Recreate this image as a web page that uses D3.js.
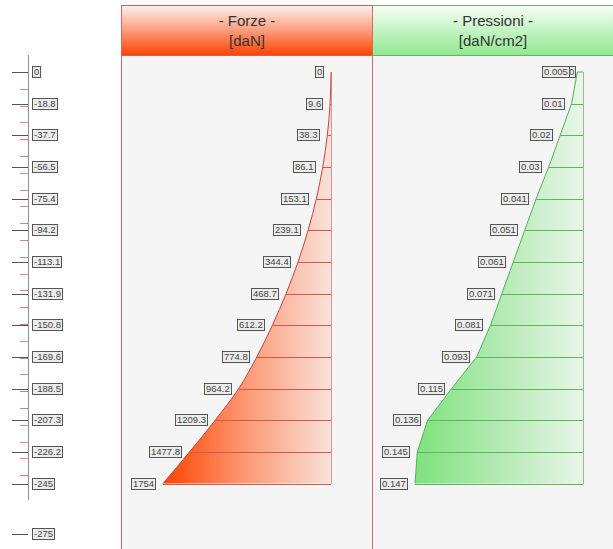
<!DOCTYPE html>
<html><head><meta charset="utf-8">
<script src="https://cdn.jsdelivr.net/npm/d3@7"></script>
<style>html,body{margin:0;padding:0;background:#fff;overflow:hidden}</style>
</head><body>
<script>
// ---- data ----
const depths = [0, 18.8, 37.7, 56.5, 75.4, 94.2, 113.1, 131.9, 150.8, 169.6, 188.5, 207.3, 226.2, 245];
const axisLabels = ["0", "-18.8", "-37.7", "-56.5", "-75.4", "-94.2", "-113.1", "-131.9", "-150.8", "-169.6", "-188.5", "-207.3", "-226.2", "-245"];
const groundDepth = 275;
const groundLabel = "-275";
const forces = [0, 9.6, 38.3, 86.1, 153.1, 239.1, 344.4, 468.7, 612.2, 774.8, 964.2, 1209.3, 1477.8, 1754];
const forceLabels = ["0", "9.6", "38.3", "86.1", "153.1", "239.1", "344.4", "468.7", "612.2", "774.8", "964.2", "1209.3", "1477.8", "1754"];
const pressures = [0.005, 0.01, 0.02, 0.03, 0.041, 0.051, 0.061, 0.071, 0.081, 0.093, 0.115, 0.136, 0.145, 0.147];
const pressureLabels = ["0.005", "0.01", "0.02", "0.03", "0.041", "0.051", "0.061", "0.071", "0.081", "0.093", "0.115", "0.136", "0.145", "0.147"];
const titles = [["- Forze -", "[daN]"], ["- Pressioni -", "[daN/cm2]"]];

// ---- layout ----
const W = 613, H = 549;
const svg = d3.select("body").append("svg").attr("width", W).attr("height", H)
  .style("font-family", "'Liberation Sans', Arial, sans-serif");
const defs = svg.append("defs");

const y = d3.scaleLinear().domain([0, groundDepth]).range([72, 534]);
const xF = d3.scaleLinear().domain([0, d3.max(forces)]).range([331, 163]);
const xP = d3.scaleLinear().domain([0, d3.max(pressures)]).range([583, 415]);

function lin(id, x2, y2, stops) {
  const g = defs.append("linearGradient").attr("id", id)
    .attr("x1", 0).attr("y1", 0).attr("x2", x2).attr("y2", y2);
  stops.forEach(s => g.append("stop").attr("offset", s[0]).attr("stop-color", s[1]));
}
lin("hdrF", 0, 1, [[0, "#fdf1ec"], [0.5, "#fb9c7c"], [1, "#ff4200"]]);
lin("hdrP", 0, 1, [[0, "#f7fff7"], [1, "#90e890"]]);
lin("fillF", 1, 0, [[0, "#ff4500"], [0.5, "#fc9a76"], [1, "#f9e2da"]]);
lin("fillP", 1, 0, [[0, "#7ee27e"], [0.5, "#b3eab3"], [1, "#e8f6e8"]]);

// panels
const panels = [{x: 121.5, w: 251, hdr: "url(#hdrF)", line: "#d06060", cx: 247},
                {x: 372.5, w: 251, hdr: "url(#hdrP)", line: "#6aae6a", cx: 493}];
panels.forEach(p => {
  svg.append("rect").attr("x", p.x).attr("y", 55.5).attr("width", p.w).attr("height", H)
    .attr("fill", "#f5f5f5");
});
panels.forEach((p, i) => {
  svg.append("rect").attr("x", p.x).attr("y", 5.5).attr("width", p.w).attr("height", 50)
    .attr("fill", p.hdr).attr("stroke", p.line);
  svg.append("text").attr("x", p.cx).attr("y", 26).attr("text-anchor", "middle")
    .attr("font-size", 15).attr("fill", "#333").text(titles[i][0]);
  svg.append("text").attr("x", p.cx).attr("y", 46).attr("text-anchor", "middle")
    .attr("font-size", 15).attr("fill", "#333").text(titles[i][1]);
});
svg.append("path").attr("d", `M121.5,5.5V${H+1}M372.5,5.5V${H+1}`).attr("stroke", "#d06868").attr("fill", "none");

// ---- left axis ----
const ax = svg.append("g");
ax.append("line").attr("x1", 28.5).attr("x2", 28.5).attr("y1", 55).attr("y2", 500)
  .attr("stroke", "#909090");
d3.range(10, 245, 10).forEach(d => {
  ax.append("line").attr("x1", 20).attr("x2", 28).attr("y1", Math.round(y(d)) + 0.5).attr("y2", Math.round(y(d)) + 0.5)
    .attr("stroke", "#d08080");
});
const axDepths = depths.concat([groundDepth]);
const axLabels = axisLabels.concat([groundLabel]);
axDepths.forEach(d => {
  const yy = Math.round(y(d)) + 0.5;
  ax.append("line").attr("x1", 12).attr("x2", 28).attr("y1", yy).attr("y2", yy).attr("stroke", "#555");
});

function label(g, xRight, yy, txt, anchorLeft) {
  const t = g.append("text").attr("font-size", 9.5).attr("fill", "#444").text(txt);
  const w = t.node().getComputedTextLength();
  const bw = Math.round(w + 3);
  const x0 = anchorLeft ? xRight : xRight - bw;
  const rx = Math.round(x0) + 0.5, ry = Math.round(yy - 6) + 0.5;
  g.insert("rect", "text").attr("x", rx).attr("y", ry).attr("width", bw).attr("height", 11)
    .attr("fill", "#ececec").attr("stroke", "#555").attr("stroke-width", 1);
  t.attr("x", rx + 1.5).attr("y", ry + 8.8);
}
axDepths.forEach((d, i) => label(ax.append("g"), 32, y(d), axLabels[i], true));

// ---- forces diagram ----
const fData = depths.map((d, i) => ({d, v: forces[i]}));
const gF = svg.append("g");
gF.append("path").datum(fData)
  .attr("d", d3.area().y(p => y(p.d)).x0(xF(0)).x1(p => xF(p.v)).curve(d3.curveMonotoneY))
  .attr("fill", "url(#fillF)");
fData.slice(1).forEach(p => {
  const yy = Math.round(y(p.d)) + 0.5;
  gF.append("line").attr("x1", xF(p.v)).attr("x2", xF(0)).attr("y1", yy).attr("y2", yy)
    .attr("stroke", "#d0584c").attr("stroke-width", 1);
});
gF.append("line").attr("x1", xF(0) + 0.5).attr("x2", xF(0) + 0.5).attr("y1", y(0)).attr("y2", y(245))
  .attr("stroke", "#e29090");
gF.append("path").datum(fData)
  .attr("d", d3.line().y(p => y(p.d)).x(p => xF(p.v)).curve(d3.curveMonotoneY))
  .attr("fill", "none").attr("stroke", "#c8443a").attr("stroke-width", 1);
fData.forEach((p, i) => label(gF.append("g"), xF(p.v) - 8, y(p.d), forceLabels[i], false));

// ---- pressures diagram ----
const pData = depths.map((d, i) => ({d, v: pressures[i]}));
const gP = svg.append("g");
gP.append("path").datum(pData)
  .attr("d", d3.area().y(p => y(p.d)).x0(xP(0)).x1(p => xP(p.v)))
  .attr("fill", "url(#fillP)");
pData.slice(1).forEach(p => {
  const yy = Math.round(y(p.d)) + 0.5;
  gP.append("line").attr("x1", xP(p.v)).attr("x2", xP(0)).attr("y1", yy).attr("y2", yy)
    .attr("stroke", "#5fb45f").attr("stroke-width", 1);
});
gP.append("line").attr("x1", xP(0) + 0.5).attr("x2", xP(0) + 0.5).attr("y1", y(0)).attr("y2", y(245))
  .attr("stroke", "#8fbf8f");
gP.append("path").datum([{d: 0, v: 0}].concat(pData))
  .attr("d", d3.line().y(p => y(p.d)).x(p => xP(p.v)))
  .attr("fill", "none").attr("stroke", "#55b055").attr("stroke-width", 1);
label(gP.append("g"), xP(0) - 8, y(0), "0", false);
pData.forEach((p, i) => label(gP.append("g"), xP(p.v) - 8, y(p.d), pressureLabels[i], false));
</script>
</body></html>
